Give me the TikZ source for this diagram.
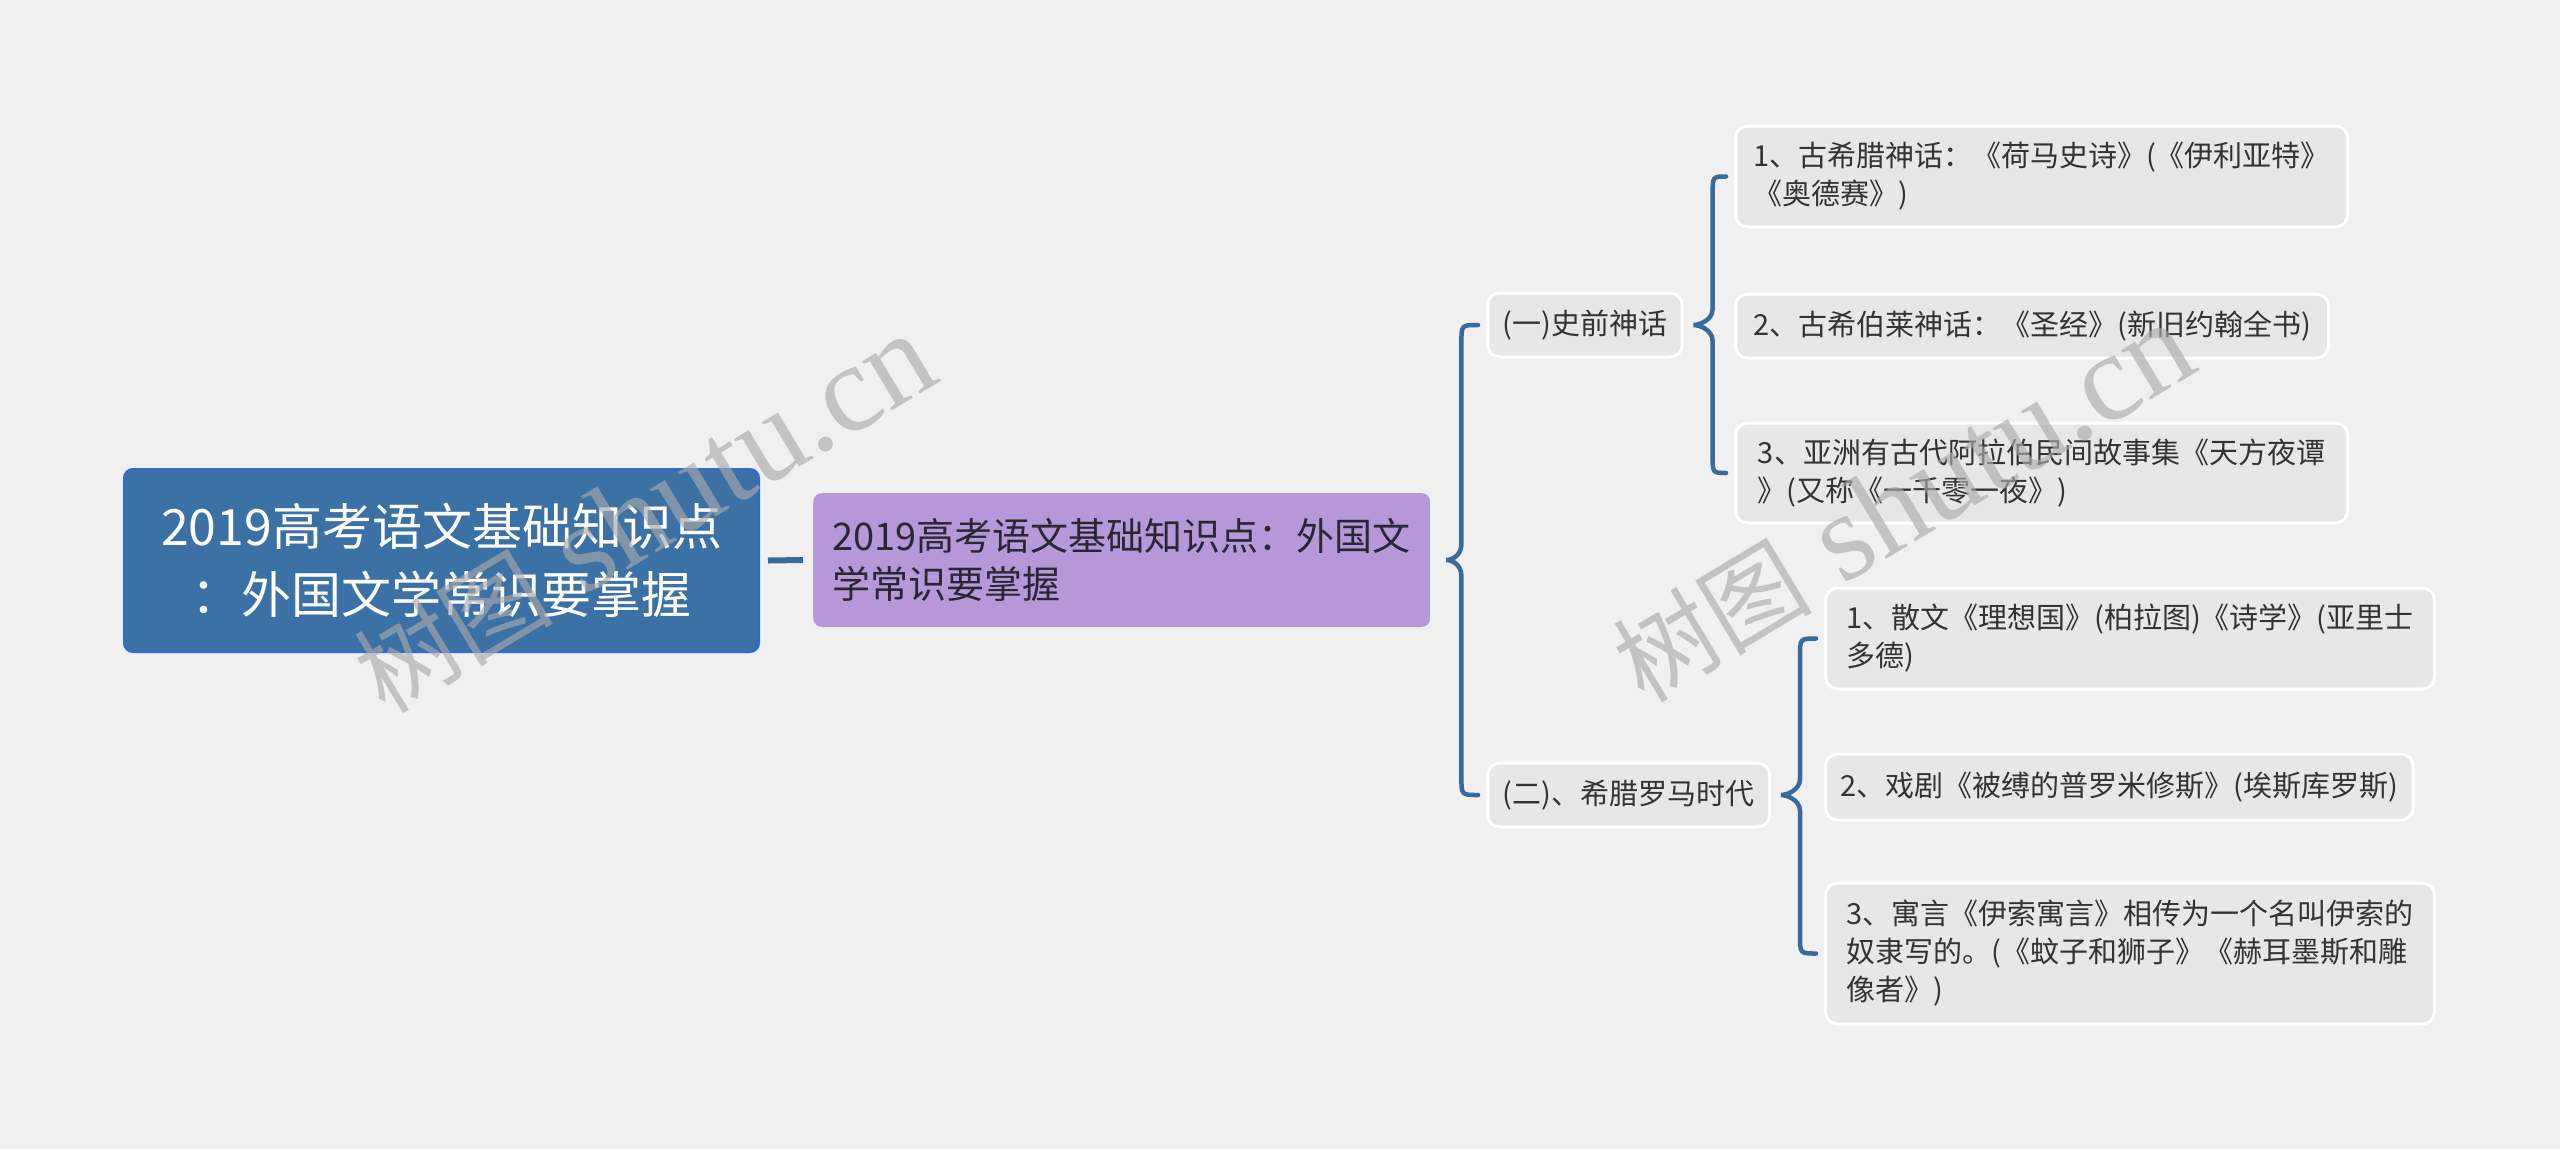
\documentclass[tikz,border=0pt]{standalone}
\usepackage{fontspec}
\setmainfont{Noto Sans CJK SC}
\newfontfamily\wmserif{Liberation Serif}
\usetikzlibrary{calc}
\definecolor{bgc}{HTML}{F0F0F0}
\definecolor{rootfill}{HTML}{3C71A6}
\definecolor{rootline}{HTML}{2D6CD0}
\definecolor{mainfill}{HTML}{B698D8}
\definecolor{maintext}{HTML}{2B2633}
\definecolor{leaffill}{HTML}{E7E7E7}
\definecolor{leaftext}{HTML}{333333}
\definecolor{connc}{HTML}{386A9B}
\definecolor{wmc}{HTML}{AAAAAA}
\newcommand{\mmbrace}[5]{%
\draw[link] let \p1=(#1.east), \p2=(#2.west), \p3=(#3.west) in
 ({\x2-8pt},\y2) .. controls ({\x1+#4pt+#5pt},\y2) .. ({\x1+#4pt+#5pt},{\y2-18pt})
 -- ({\x1+#4pt+#5pt},{\y1+16pt})
 .. controls ({\x1+#4pt+#5pt},{\y1+5pt}) and ({\x1+#4pt+6pt},\y1) .. ({\x1+#4pt},\y1)
 .. controls ({\x1+#4pt+6pt},\y1) and ({\x1+#4pt+#5pt},{\y1-5pt}) .. ({\x1+#4pt+#5pt},{\y1-16pt})
 -- ({\x1+#4pt+#5pt},{\y3+18pt})
 .. controls ({\x1+#4pt+#5pt},\y3) .. ({\x3-8pt},\y3);}
\begin{document}
\begin{tikzpicture}[x=1pt,y=-1pt,
  rootbox/.style={fill=rootfill, draw=rootline, line width=2pt, rounded corners=9pt,
    text=white, font=\fontsize{50}{68}\selectfont, align=center,
    minimum width=635pt, minimum height=183pt, inner sep=0pt},
  mainbox/.style={fill=mainfill, rounded corners=9pt, text=maintext,
    font=\fontsize{38}{48}\selectfont, align=left, minimum width=617pt,
    minimum height=134pt, inner xsep=18pt, inner ysep=0pt, anchor=west},
  leaf/.style={fill=leaffill, draw=white, line width=3pt, rounded corners=12pt,
    text=leaftext, font=\fontsize{29}{38}\selectfont, align=left,
    inner xsep=15pt, inner ysep=0pt, anchor=west},
  link/.style={draw=connc, line width=4.5pt, line cap=round},
  wmark/.style={text=wmc, opacity=0.64, anchor=base west, inner sep=0pt, rotate=31}]
\useasboundingbox (0,0) rectangle (2560,1149);
\fill[bgc] (0,0) rectangle (2560,1149);

\node[rootbox] (root) at (441.5,560.5) {2019高考语文基础知识点\\：外国文学常识要掌握};
\node[mainbox] (main) at (813,560) {2019高考语文基础知识点：外国文\\学常识要掌握};

\node[leaf, minimum width=194pt, minimum height=64pt] (l1a) at (1486,325) {(一)史前神话};
\node[leaf, minimum width=282pt, minimum height=64pt] (l1b) at (1486,795) {(二)、希腊罗马时代};

\node[leaf, minimum width=612pt, minimum height=101pt] (c11) at (1734,176.5) {1、古希腊神话：《荷马史诗》(《伊利亚特》\\《奥德赛》)};
\node[leaf, minimum width=593pt, minimum height=64pt] (c12) at (1734,326) {2、古希伯莱神话：《圣经》(新旧约翰全书)};
\node[leaf, minimum width=612pt, minimum height=100pt] (c13) at (1734,473) {3、亚洲有古代阿拉伯民间故事集《天方夜谭\\》(又称《一千零一夜》)};

\node[leaf, minimum width=609pt, minimum height=101pt] (c21) at (1824,638.5) {1、散文《理想国》(柏拉图)《诗学》(亚里士\\多德)};
\node[leaf, minimum width=587pt, minimum height=66pt] (c22) at (1824,787) {2、戏剧《被缚的普罗米修斯》(埃斯库罗斯)};
\node[leaf, minimum width=609pt, minimum height=141pt] (c23) at (1824,953.5) {3、寓言《伊索寓言》相传为一个名叫伊索的\\奴隶写的。(《蚊子和狮子》《赫耳墨斯和雕\\像者》)};

\draw[link, line width=6pt, line cap=butt] ($(root.east)+(8,0)$) -- ($(main.west)+(-10,0)$);
\mmbrace{main}{l1a}{l1b}{16}{15}
\mmbrace{l1a}{c11}{c13}{10}{19}
\mmbrace{l1b}{c21}{c23}{10}{19}

\node[wmark] (wm1) at (385,716) {\fontsize{100}{100}\selectfont 树图\fontsize{125}{125}\wmserif\selectfont{} shutu.cn};
\node[wmark] (wm2) at (1644,705) {\fontsize{100}{100}\selectfont 树图\fontsize{125}{125}\wmserif\selectfont{} shutu.cn};
\end{tikzpicture}
\end{document}
